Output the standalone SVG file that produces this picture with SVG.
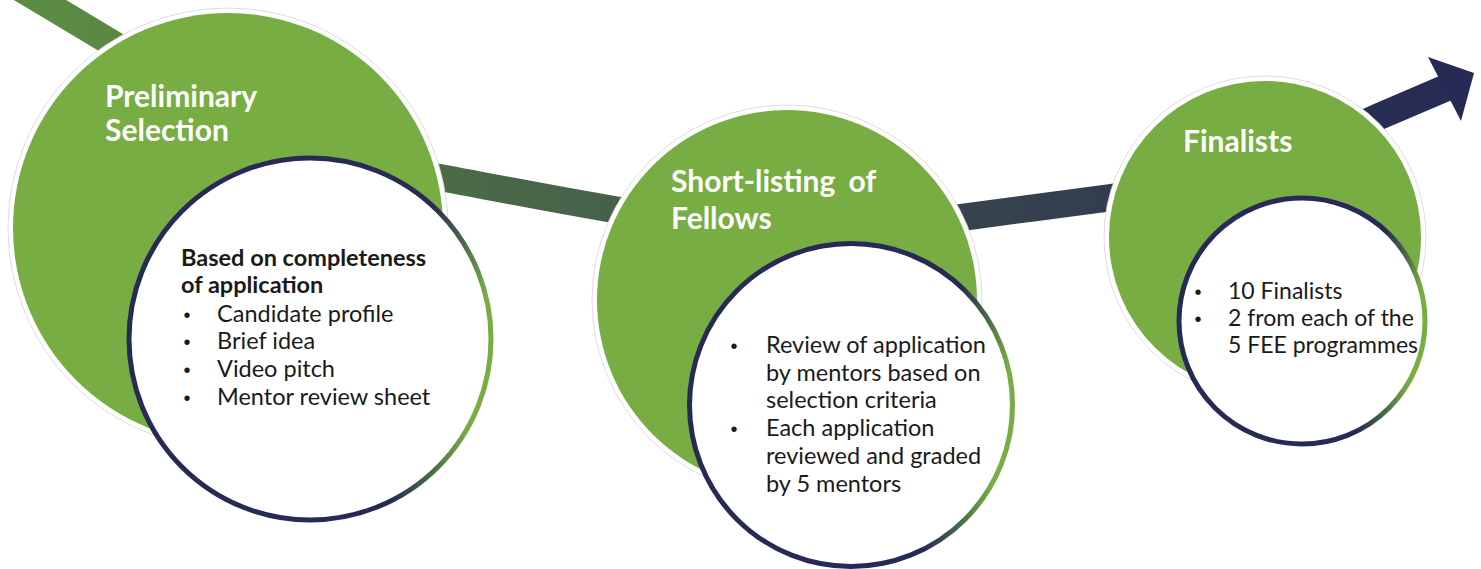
<svg xmlns="http://www.w3.org/2000/svg" width="1481" height="569" viewBox="0 0 1481 569">
<defs>
<linearGradient id="swoosh" gradientUnits="userSpaceOnUse" x1="0" y1="0" x2="1481" y2="0">
<stop offset="0" stop-color="#5C8D44"/>
<stop offset="0.12" stop-color="#588543"/>
<stop offset="0.3" stop-color="#4B6B48"/>
<stop offset="0.42" stop-color="#46604A"/>
<stop offset="0.66" stop-color="#36434D"/>
<stop offset="0.76" stop-color="#323C50"/>
<stop offset="0.93" stop-color="#292D54"/>
<stop offset="1" stop-color="#272A55"/>
</linearGradient>
<linearGradient id="ring" x1="0" y1="0.43" x2="1" y2="0.57">
<stop offset="0" stop-color="#272A55"/>
<stop offset="0.78" stop-color="#272A55"/>
<stop offset="0.88" stop-color="#4A6A48"/>
<stop offset="0.96" stop-color="#77AD42"/>
<stop offset="1" stop-color="#77AD42"/>
</linearGradient>
<style>
.halo{fill:#ffffff;stroke:#d4d4d4;stroke-width:0.8}
.green{fill:#77AD42}
.inner{fill:#ffffff;stroke:url(#ring);stroke-width:5}
.title{font-family:Lato,"Liberation Sans",sans-serif;font-weight:bold;font-size:30px;fill:#ffffff}
.body{font-family:Lato,"Liberation Sans",sans-serif;font-size:23.5px;fill:#1a1a1a}
.small{font-size:23px}
.bold{font-weight:bold}
.bul{font-family:"Liberation Sans",sans-serif;font-size:20px;fill:#1a1a1a;text-anchor:middle}
</style>
</defs>
<g id="connectors">
<path d="M -10 -30 C 30 -6, 80 24, 120 48 C 200 96, 347 160, 437 177 C 497 188, 557 200, 617 210 C 717 228, 865 230, 965 217 C 1013 211, 1060 204, 1108 198 C 1198 186, 1307 150, 1387 113 L 1448 87" fill="none" stroke="url(#swoosh)" stroke-width="27"/>
<polygon points="1428,57 1474,73 1461,121" fill="#272A55"/>
</g>
<g id="node-preliminary">
<circle cx="228" cy="228" r="220" class="halo"/>
<circle cx="228" cy="228" r="215" class="green"/>
<text x="105" y="107" class="title">Preliminary</text>
<text x="105" y="141" class="title">Selection</text>
<circle cx="310" cy="339" r="181" class="inner"/>
<text x="181" y="266" class="body bold">Based on completeness</text>
<text x="181" y="293" class="body bold">of application</text>
<text x="187" y="322" class="bul">•</text>
<text x="217" y="322" class="body">Candidate profile</text>
<text x="187" y="349" class="bul">•</text>
<text x="217" y="349" class="body">Brief idea</text>
<text x="187" y="377" class="bul">•</text>
<text x="217" y="377" class="body">Video pitch</text>
<text x="187" y="405" class="bul">•</text>
<text x="217" y="405" class="body">Mentor review sheet</text>
</g>
<g id="node-shortlisting">
<circle cx="787" cy="300" r="195" class="halo"/>
<circle cx="787" cy="300" r="190" class="green"/>
<text x="671" y="192" class="title" word-spacing="6">Short-listing of</text>
<text x="671" y="229" class="title">Fellows</text>
<circle cx="851" cy="405" r="161.5" class="inner"/>
<text x="734" y="353" class="bul">•</text>
<text x="766" y="353" class="body">Review of application</text>
<text x="766" y="381" class="body">by mentors based on</text>
<text x="766" y="408" class="body">selection criteria</text>
<text x="734" y="436" class="bul">•</text>
<text x="766" y="436" class="body">Each application</text>
<text x="766" y="464" class="body">reviewed and graded</text>
<text x="766" y="492" class="body">by 5 mentors</text>
</g>
<g id="node-finalists">
<circle cx="1265" cy="237" r="161" class="halo"/>
<circle cx="1265" cy="237" r="156" class="green"/>
<text x="1183" y="152" class="title">Finalists</text>
<circle cx="1302" cy="321" r="123" class="inner"/>
<text x="1198" y="299" class="bul">•</text>
<text x="1228" y="299" class="body small">10 Finalists</text>
<text x="1198" y="326" class="bul">•</text>
<text x="1228" y="326" class="body small">2 from each of the</text>
<text x="1228" y="353" class="body small">5 FEE programmes</text>
</g>
</svg>
